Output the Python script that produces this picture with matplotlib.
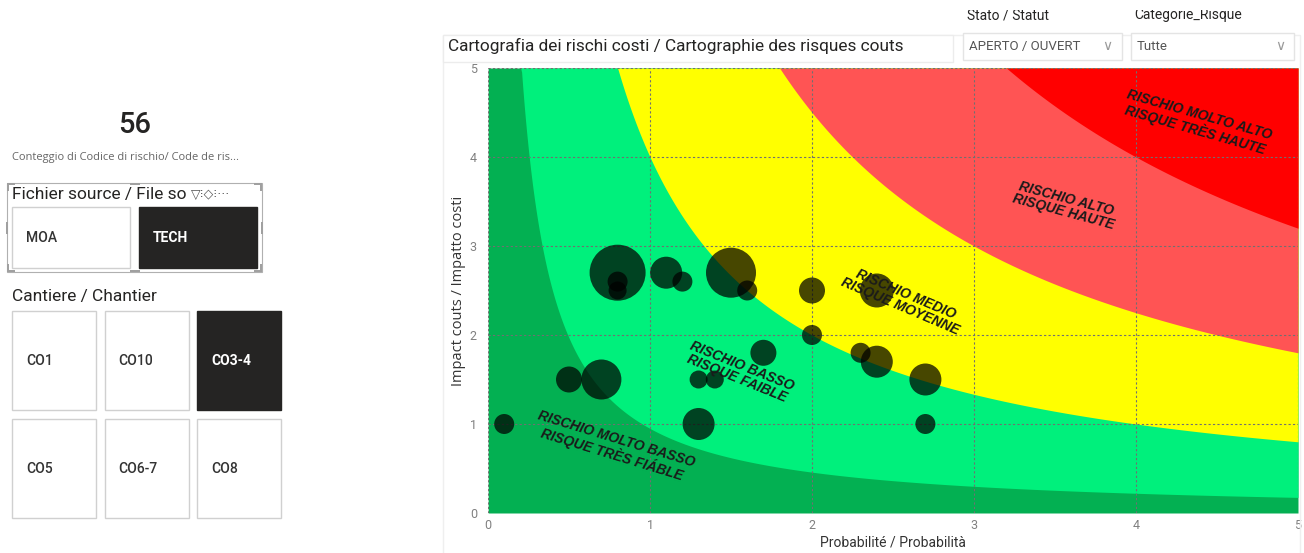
import numpy as np
import matplotlib.pyplot as plt
from matplotlib.patches import Rectangle

# bubbles: probabilita, impatto costi, peso (bubble size)
prob = [0.1, 0.5, 0.7, 0.8, 0.8, 0.8, 1.1, 1.2, 1.5, 1.6, 1.7, 1.3, 1.4, 1.3,
        2.0, 2.0, 2.4, 2.3, 2.4, 2.7, 2.7]
impatto = [1.0, 1.5, 1.5, 2.7, 2.6, 2.5, 2.7, 2.6, 2.7, 2.5, 1.8, 1.5, 1.5, 1.0,
           2.5, 2.0, 2.5, 1.8, 1.7, 1.5, 1.0]
peso = [10, 13, 20, 28, 10, 9, 16, 10, 25, 10, 13, 9, 9, 16,
        13, 10, 17, 10, 16, 16, 10]

# risk zones: boundary curves y = k / x
zone_k = [0.95, 4, 9, 16]
zone_colors = ["#03B052", "#00F07C", "#FFFF00", "#FF5454", "#FF0000"]
zone_labels = ["RISCHIO MOLTO BASSO\nRISQUE TRÈS FIÁBLE", "RISCHIO BASSO\nRISQUE FAIBLE",
               "RISCHIO MEDIO\nRISQUE MOYENNE", "RISCHIO ALTO\nRISQUE HAUTE",
               "RISCHIO MOLTO ALTO\nRISQUE TRÈS HAUTE"]
label_pos = [(0.78, 0.74), (1.55, 1.58), (2.56, 2.39), (3.56, 3.46), (4.38, 4.39)]
label_rot = [-17, -22, -23, -15, -16]

fichier = ["MOA", "TECH"]
cantieri = ["CO1", "CO10", "CO3-4", "CO5", "CO6-7", "CO8"]
selected = ["TECH", "CO3-4"]
conteggio = 56

W, H = 1304, 553
fig = plt.figure(figsize=(W / 100, H / 100), dpi=100)
plt.rcParams["font.family"] = ["Roboto", "DejaVu Sans"]


def fx(px):
    return px / W


def fy(py):
    return 1 - py / H


def box(x0, y0, x1, y1, fc="white", ec="#d0d0d0", lw=1.0, z=1):
    fig.add_artist(Rectangle((fx(x0), fy(y1)), fx(x1) - fx(x0), fy(y0) - fy(y1),
                             transform=fig.transFigure, facecolor=fc, edgecolor=ec,
                             lw=lw, zorder=z))


# ---- main chart ----
box(443, 35, 1300, 560, fc="none", ec="#efefef")
ax = fig.add_axes([fx(488), fy(513), fx(1298) - fx(488), fy(68) - fy(513)])
x = np.linspace(0.001, 5, 800)
ax.fill_between(x, 0, 5, color=zone_colors[0], lw=0)
for i, (k, col) in enumerate(zip(zone_k, zone_colors[1:])):
    curve = k / x ** 1.05 if i == 0 else k / x
    ax.fill_between(x, np.clip(curve, 0, 5), 5, color=col, lw=0)

ax.scatter(prob, impatto, s=[(1.44 * p) ** 2 for p in peso], color="black",
           alpha=0.72, lw=0, zorder=3)

for txt, (lx, ly), rot in zip(zone_labels, label_pos, label_rot):
    ax.text(lx, ly, txt, rotation=rot, ha="center", va="center", fontsize=10,
            family="Liberation Sans", weight="bold", style="italic",
            color="#1a1a1a", linespacing=1.0, zorder=4, rotation_mode="anchor")

ax.set_xlim(0, 5)
ax.set_ylim(0, 5)
ax.set_xticks(range(6))
ax.set_yticks(range(6))
ax.grid(True, color="#707070", lw=0.8, ls=(0, (2, 2)), zorder=2)
ax.set_axisbelow(False)
for s in ax.spines.values():
    s.set_visible(False)
ax.tick_params(length=0, colors="#808080", labelsize=9, pad=4)
ax.tick_params(axis="y", pad=8)
ax.set_xlabel("Probabilité / Probabilità", fontsize=10, color="#333333", labelpad=3)
ax.set_ylabel("Impact couts / Impatto costi", fontsize=10.5, color="#333333",
              family="Open Sans", labelpad=3)

# title and slicers on top
box(443, 35, 953, 62, ec="#ececec")
fig.text(fx(448), fy(46), "Cartografia dei rischi costi / Cartographie des risques couts",
         fontsize=12.4, color="#252423", va="center")
fig.text(fx(967), fy(15), "Stato / Statut", fontsize=10, color="#252423", va="center")
fig.text(fx(1134), fy(15), "Categorie_Risque", fontsize=10, color="#252423", va="center")
box(930, -2, 1304, 10, fc="white", ec="none", z=5)
box(963, 33, 1122, 60, ec="#e4e4e4")
box(1131, 33, 1294, 60, ec="#e4e4e4")
fig.text(fx(969), fy(47), "APERTO / OUVERT", fontsize=9.5, color="#555555", va="center")
fig.text(fx(1137), fy(47), "Tutte", fontsize=9.5, color="#555555", va="center")
for cx in (1107, 1280):
    fig.text(fx(cx), fy(46), "∨", fontsize=10, color="#9a9a9a", va="center", ha="center",
             family="DejaVu Sans")

# ---- left panel ----
fig.text(fx(135), fy(125), str(conteggio), fontsize=21, color="#252423",
         ha="center", va="center", weight="medium")
fig.text(fx(12), fy(157), "Conteggio di Codice di rischio/ Code de ris...", fontsize=8,
         color="#666666", va="center", family="Open Sans")

# selection frame around Fichier source slicer
box(7, 183, 262, 272, fc="none", ec="#b0b0b0", lw=0.8)
for hx, hy, w, h in [(7, 183, 8, 2), (7, 183, 2, 8), (254, 183, 8, 2), (260, 183, 2, 8),
                     (7, 270, 8, 2), (7, 264, 2, 8), (254, 270, 8, 2), (260, 264, 2, 8),
                     (130, 183, 10, 2), (130, 270, 10, 2), (6, 222, 2, 12), (261, 222, 2, 12)]:
    box(hx, hy, hx + w, hy + h, fc="#a0a0a0", ec="none")
fig.text(fx(12), fy(194), "Fichier source / File so", fontsize=12.5, color="#252423",
         va="center")
fig.text(fx(191), fy(194), "▽⁝◇⁝···", fontsize=9, color="#555555", va="center",
         family="DejaVu Sans")

for i, lab in enumerate(fichier):
    x0 = 12 + i * 127
    sel = lab in selected
    box(x0, 207, x0 + 118, 268, fc="#252423" if sel else "white",
        ec="#252423" if sel else "#d0d0d0")
    fig.text(fx(x0 + 14), fy(238), lab, fontsize=10, va="center",
             color="white" if sel else "#333333", weight="bold" if sel else "medium")

fig.text(fx(12), fy(297), "Cantiere / Chantier", fontsize=12.5, color="#252423", va="center")
for i, lab in enumerate(cantieri):
    col, row = i % 3, i // 3
    x0 = 12 + col * 92.5
    y0 = 311 + row * 108
    sel = lab in selected
    box(x0, y0, x0 + 84, y0 + 99, fc="#252423" if sel else "white",
        ec="#252423" if sel else "#d0d0d0")
    fig.text(fx(x0 + 14), fy(y0 + 50), lab, fontsize=10, va="center",
             color="white" if sel else "#333333", weight="bold" if sel else "medium")

fig.savefig("out.png", dpi=100)
